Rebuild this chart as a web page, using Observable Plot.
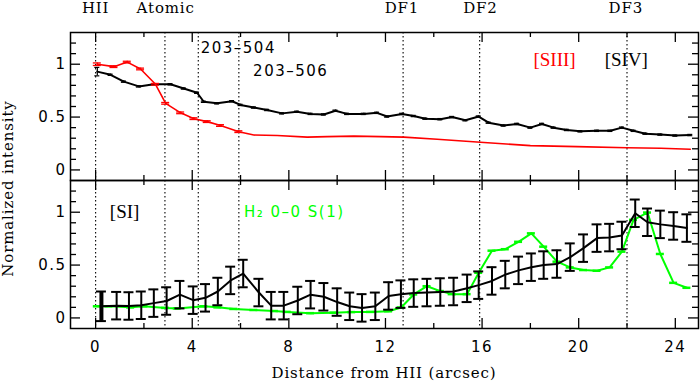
<!DOCTYPE html>
<html><head><meta charset="utf-8">
<script src="https://cdn.jsdelivr.net/npm/d3@7"></script>
<script src="https://cdn.jsdelivr.net/npm/@observablehq/plot@0.6"></script>
<style>
body{margin:0;background:#fff}
svg text{letter-spacing:1.5px}
g[aria-description="serif"] text{letter-spacing:0}
g[aria-description="words"] text{letter-spacing:0.85px}
</style></head><body><div id="chart"></div>
<script>
// ---- data ----
const topBlackX = [0.07,0.62,1.17,1.79,2.41,3.10,3.65,4.2,4.48,5.03,5.65,6.0,6.55,7.1,7.72,8.34,8.9,9.45,9.93,10.41,11.1,11.65,12.07,12.69,13.17,13.65,14.27,14.76,15.31,15.86,16.27,16.89,17.45,18.0,18.48,18.96,19.51,20.07,20.76,21.31,21.79,22.27,22.76,23.38,24.0,24.62];
const topBlackY = [0.93,0.90,0.835,0.79,0.81,0.81,0.77,0.73,0.645,0.63,0.65,0.615,0.59,0.567,0.535,0.55,0.53,0.525,0.56,0.53,0.53,0.54,0.505,0.53,0.51,0.485,0.48,0.50,0.47,0.505,0.447,0.42,0.435,0.40,0.435,0.40,0.378,0.365,0.37,0.37,0.40,0.37,0.343,0.334,0.325,0.33];
const topBlackErr = [0.04,0.006,0.006,0.006,0.006,0.006,0.006,0.006,0.006,0.006,0.006,0.006,0.006,0.006,0.006,0.006,0.006,0.006,0.006,0.006,0.006,0.006,0.006,0.006,0.006,0.006,0.006,0.006,0.006,0.006,0.006,0.006,0.006,0.006,0.006,0.006,0.006,0.006,0.006,0.006,0.006,0.006,0.006,0.006,0.006,0.006];

const topRedX = [0.07,0.76,1.31,1.86,2.48,2.9,3.52,4.07,4.62,5.17,5.93,6.55,7.52,8.76,9.59,10.69,11.8,12.76,14.14,15.93,18.0,19.93,22.0,23.4,24.62];
const topRedY = [1.0,0.977,1.02,0.955,0.81,0.63,0.54,0.485,0.457,0.42,0.362,0.33,0.325,0.31,0.315,0.32,0.315,0.31,0.29,0.262,0.23,0.22,0.21,0.205,0.195];
const topRedErr = [0.012,0.008,0.008,0.008,0.008,0.008,0.008,0.008,0.008,0.008,0.008,0,0,0,0,0,0,0,0,0,0,0,0,0,0];

const botBlackX = [0.24,0.87,1.38,1.89,2.41,2.94,3.49,4.04,4.55,5.06,5.59,6.11,6.76,7.27,7.79,8.37,8.90,9.45,10.0,10.52,11.03,11.58,12.13,12.64,13.17,13.72,14.27,14.82,15.38,15.86,16.41,16.96,17.51,18.04,18.55,19.1,19.65,20.2,20.76,21.28,21.79,22.34,22.85,23.38,23.93,24.48];
const botBlackY = [0.11,0.116,0.113,0.12,0.14,0.16,0.22,0.168,0.19,0.25,0.355,0.42,0.24,0.116,0.116,0.165,0.22,0.20,0.15,0.11,0.095,0.11,0.208,0.225,0.235,0.24,0.245,0.25,0.28,0.31,0.35,0.41,0.45,0.48,0.50,0.51,0.575,0.66,0.755,0.76,0.78,0.99,0.905,0.885,0.87,0.85];
const botBlackErr = [0.14,0.13,0.13,0.13,0.13,0.13,0.13,0.13,0.13,0.13,0.13,0.13,0.13,0.13,0.13,0.13,0.13,0.13,0.13,0.13,0.13,0.13,0.13,0.13,0.13,0.13,0.13,0.13,0.13,0.13,0.13,0.13,0.13,0.13,0.13,0.13,0.13,0.13,0.13,0.13,0.13,0.13,0.13,0.13,0.13,0.13];

const greenX = [0.07,0.55,1.45,2.0,2.9,3.38,4.48,5.06,5.72,6.55,7.4,7.93,8.9,9.86,10.6,11.38,12.13,12.65,13.17,13.72,14.27,14.76,15.38,15.86,16.41,16.96,17.51,18.04,18.55,19.1,19.65,20.2,20.76,21.28,21.79,22.27,22.85,23.38,23.93,24.48];
const greenY = [0.11,0.11,0.10,0.11,0.095,0.09,0.11,0.10,0.085,0.075,0.065,0.057,0.045,0.05,0.055,0.057,0.063,0.099,0.222,0.30,0.254,0.225,0.225,0.427,0.636,0.65,0.72,0.80,0.674,0.532,0.478,0.453,0.446,0.478,0.627,0.928,0.997,0.605,0.332,0.285];

const dividerX = [0, 2.87, 4.25, 5.93, 12.73, 15.9, 22.0];
const topLabelText = ["HII","Atomic","DF1","DF2","DF3"];
const topLabelX = [0, 2.9, 12.68, 15.93, 21.95];
const xMajor = [0,4,8,12,16,20,24];
const xMinor = [2,6,10,14,18,22];
const yMajor = [0,0.5,1];
const yMajorLabels = ["0","0.5","1"];
const yMinor = [0.1,0.2,0.3,0.4,0.6,0.7,0.8,0.9,1.1,1.2];

// ---- layout ----
const W=700,H=384,mL=70,mR=2,mT=32,mB=56;
const xDom=[-1.04,24.96], yDom=[-0.1,1.3];
const ux=(xDom[1]-xDom[0])/(W-mL-mR);
const uy=(yDom[1]-yDom[0])/((H-mT-mB)/2);

const rows=(ds,vs,es,panel)=>ds.map((d,i)=>({d,v:vs[i],e:es?es[i]:0,panel}));
const sBlackTop=rows(topBlackX,topBlackY,topBlackErr,"top");
const sRedTop=rows(topRedX,topRedY,topRedErr,"top");
const sBlackBot=rows(botBlackX,botBlackY,botBlackErr,"bottom");
const sGreen=rows(greenX,greenY,null,"bottom");

function errMarks(data, stroke, capPx, sw){
  const f=data.filter(r=>r.e>0);
  return [
    Plot.ruleX(f,{x:"d",y1:r=>r.v-r.e,y2:r=>r.v+r.e,fy:"panel",stroke,strokeWidth:sw}),
    Plot.ruleY(f,{y:r=>r.v+r.e,x1:r=>r.d-capPx*ux,x2:r=>r.d+capPx*ux,fy:"panel",stroke,strokeWidth:sw}),
    Plot.ruleY(f,{y:r=>r.v-r.e,x1:r=>r.d-capPx*ux,x2:r=>r.d+capPx*ux,fy:"panel",stroke,strokeWidth:sw})
  ];
}
const tk={stroke:"black",strokeWidth:1.3};
const RED="#ff0000", GREEN="#00ff00";
const SERIF="DejaVu Serif";

const chart = Plot.plot({
  width:W,height:H,marginLeft:mL,marginRight:mR,marginTop:mT,marginBottom:mB,
  x:{domain:xDom,axis:null},
  y:{domain:yDom,axis:null},
  fy:{domain:["top","bottom"],axis:null,padding:0},
  style:{fontFamily:"DejaVu Sans",background:"white",color:"black"},
  marks:[
    Plot.ruleX(dividerX,{stroke:"black",strokeWidth:1.1,strokeDasharray:"1.5,2.5"}),
    // ticks
    Plot.ruleX(xMajor,{y1:yDom[0],y2:yDom[0]+10*uy,...tk}),
    Plot.ruleX(xMajor,{y1:yDom[1],y2:yDom[1]-10*uy,...tk}),
    Plot.ruleX(xMinor,{y1:yDom[0],y2:yDom[0]+5*uy,...tk}),
    Plot.ruleX(xMinor,{y1:yDom[1],y2:yDom[1]-5*uy,...tk}),
    Plot.ruleY(yMajor,{x1:xDom[0],x2:xDom[0]+10*ux,...tk}),
    Plot.ruleY(yMajor,{x1:xDom[1],x2:xDom[1]-10*ux,...tk}),
    Plot.ruleY(yMinor,{x1:xDom[0],x2:xDom[0]+6*ux,...tk}),
    Plot.ruleY(yMinor,{x1:xDom[1],x2:xDom[1]-6*ux,...tk}),
    Plot.frame({stroke:"black",strokeWidth:1.5}),
    // y tick labels (both panels)
    Plot.text(yMajor,{x:xDom[0],y:d=>d,text:(d,i)=>yMajorLabels[i],textAnchor:"end",dx:-4,fontSize:15,fill:"black"}),
    // x tick labels (bottom only)
    Plot.text(xMajor.map(x=>({x,panel:"bottom"})),{x:"x",y:yDom[0],fy:"panel",text:r=>String(r.x),dy:19,fontSize:15,fill:"black"}),
    Plot.text([{t:"Distance from HII (arcsec)",panel:"bottom"}],{x:11.94,y:yDom[0],fy:"panel",text:"t",dy:45,fontSize:15,fontFamily:SERIF,fill:"black",ariaDescription:"words"}),
    Plot.text([{t:"Normalized intensity",panel:"top"}],{x:xDom[0],y:yDom[0],fy:"panel",text:"t",dx:-62,dy:8,rotate:-90,fontSize:15,fontFamily:SERIF,fill:"black",ariaDescription:"words"}),
    // top labels
    Plot.text(topLabelText.map((t,i)=>({t,x:topLabelX[i],panel:"top"})),{x:"x",y:yDom[1],fy:"panel",text:"t",dy:-24,fontSize:15,fontFamily:SERIF,fill:"black",ariaDescription:"words"}),
    // annotations
    Plot.text([{t:"203–504",x:4.35,y:1.153,panel:"top"},{t:"203–506",x:6.52,y:0.936,panel:"top"}],{x:"x",y:"y",fy:"panel",text:"t",textAnchor:"start",fontSize:15,fill:"black"}),
    Plot.text([{t:"[SIII]",x:19.0,y:1.04,c:RED,panel:"top"},{t:"[SIV]",x:21.97,y:1.04,c:"black",panel:"top"},{t:"[SI]",x:1.2,y:1.0,c:"black",panel:"bottom"}],{x:"x",y:"y",fy:"panel",text:"t",fill:"c",fontFamily:"Liberation Serif",fontSize:19,ariaDescription:"serif"}),
    Plot.text([{t:"H₂ 0–0 S(1)",x:6.14,y:1.0,panel:"bottom"}],{x:"x",y:"y",fy:"panel",text:"t",textAnchor:"start",fontSize:15,fill:GREEN}),
    // top panel series
    Plot.line(sBlackTop,{x:"d",y:"v",fy:"panel",stroke:"black",strokeWidth:2}),
    ...errMarks(sBlackTop,"black",2.5,1.2),
    Plot.line(sRedTop,{x:"d",y:"v",fy:"panel",stroke:RED,strokeWidth:1.6}),
    ...errMarks(sRedTop,RED,4,1.3),
    // bottom panel series
    Plot.line(sGreen,{x:"d",y:"v",fy:"panel",stroke:GREEN,strokeWidth:2}),
    Plot.ruleY(sGreen,{y:"v",x1:r=>r.d-4*ux,x2:r=>r.d+4*ux,fy:"panel",stroke:GREEN,strokeWidth:2.5}),
    Plot.line(sBlackBot,{x:"d",y:"v",fy:"panel",stroke:"black",strokeWidth:2}),
    ...errMarks(sBlackBot,"black",5,2),
    Plot.ruleX(sBlackBot.slice(0,1),{x:"d",y1:r=>r.v-r.e,y2:r=>r.v+r.e,fy:"panel",stroke:"black",strokeWidth:4})
  ]
});
document.getElementById("chart").appendChild(chart);
</script></body></html>
